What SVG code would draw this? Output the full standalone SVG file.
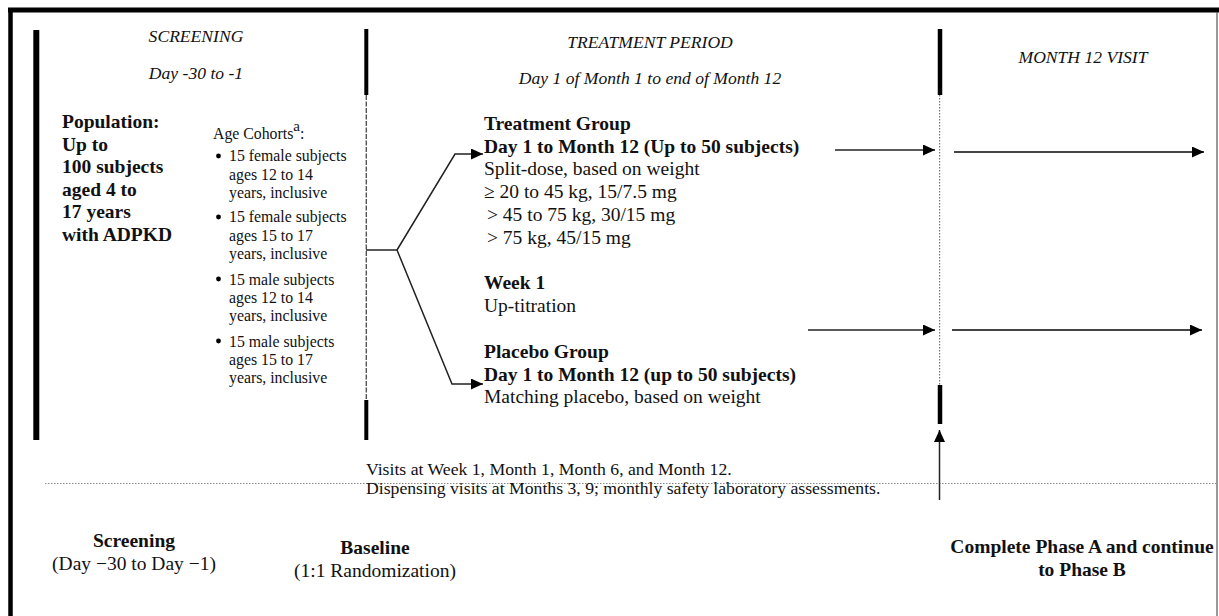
<svg xmlns="http://www.w3.org/2000/svg" width="1219" height="616" viewBox="0 0 1219 616">
<style>
text{font-family:"Liberation Serif","Times New Roman",serif;fill:#111}
.hd{font-style:italic;font-size:17.6px}
.b{font-weight:bold;font-size:19.5px}
.r{font-size:19.5px}
.s{font-size:15.8px}
.v{font-size:17.7px}
.c{text-anchor:middle}
.ln{stroke:#222;stroke-width:1.5;fill:none}
.ln2{stroke:#444;stroke-width:2;fill:none}
.bar{stroke:#000;fill:none}
</style>
<defs>
<marker id="ah" markerUnits="userSpaceOnUse" markerWidth="13" markerHeight="12" refX="12" refY="5.5" orient="auto">
<path d="M0,0 L12,5.5 L0,11 z" fill="#000"/>
</marker>
</defs>
<rect width="1219" height="616" fill="#fff"/>
<g id="frame">
<line x1="8" y1="10" x2="1219" y2="10" stroke="#000" stroke-width="5"/>
<line x1="10.5" y1="8" x2="10.5" y2="616" stroke="#000" stroke-width="4.5"/>
<line x1="1217" y1="12" x2="1217" y2="616" stroke="#555" stroke-width="1.2"/>
<line x1="36.3" y1="30" x2="36.3" y2="440" class="bar" stroke-width="6"/>
<line x1="366.3" y1="29" x2="366.3" y2="95" class="bar" stroke-width="4"/>
<line x1="366.3" y1="95" x2="366.3" y2="400" stroke="#555" stroke-width="1.4" stroke-dasharray="5,1.5"/>
<line x1="366.3" y1="400" x2="366.3" y2="440" class="bar" stroke-width="4"/>
<line x1="940" y1="29" x2="940" y2="95" class="bar" stroke-width="4.5"/>
<line x1="939.6" y1="95" x2="939.6" y2="385" stroke="#777" stroke-width="1.2" stroke-dasharray="1.5,1.5"/>
<line x1="940" y1="385" x2="940" y2="424" class="bar" stroke-width="4.5"/>
<line x1="45" y1="483.5" x2="1217" y2="483.5" stroke="#888" stroke-width="1" stroke-dasharray="1.5,1.5"/>
</g>
<g id="header-screening">
<text class="hd c" x="196" y="42">SCREENING</text>
<text class="hd c" x="196" y="79">Day -30 to -1</text>
</g>
<g id="header-treatment">
<text class="hd c" x="650" y="48">TREATMENT PERIOD</text>
<text class="hd c" x="650" y="84">Day 1 of Month 1 to end of Month 12</text>
</g>
<g id="header-month12">
<text class="hd c" x="1083" y="63">MONTH 12 VISIT</text>
</g>
<g id="population">
<text class="b" x="62" y="128">Population:</text>
<text class="b" x="62" y="151">Up to</text>
<text class="b" x="62" y="173">100 subjects</text>
<text class="b" x="62" y="196">aged 4 to</text>
<text class="b" x="62" y="218">17 years</text>
<text class="b" x="62" y="241">with ADPKD</text>
</g>
<g id="age-cohorts">
<text class="s" x="213" y="139">Age Cohorts<tspan dy="-8" font-size="15">a</tspan><tspan dy="8">:</tspan></text>
<g fill="#000">
<circle cx="218.5" cy="156" r="2.4"/>
<circle cx="218.5" cy="217" r="2.4"/>
<circle cx="218.5" cy="279" r="2.4"/>
<circle cx="218.5" cy="341" r="2.4"/>
</g>
<text class="s" x="229" y="161">15 female subjects</text>
<text class="s" x="229" y="180">ages 12 to 14</text>
<text class="s" x="229" y="198">years, inclusive</text>
<text class="s" x="229" y="222">15 female subjects</text>
<text class="s" x="229" y="241">ages 15 to 17</text>
<text class="s" x="229" y="259">years, inclusive</text>
<text class="s" x="229" y="285">15 male subjects</text>
<text class="s" x="229" y="303">ages 12 to 14</text>
<text class="s" x="229" y="321">years, inclusive</text>
<text class="s" x="229" y="347">15 male subjects</text>
<text class="s" x="229" y="365">ages 15 to 17</text>
<text class="s" x="229" y="383">years, inclusive</text>
</g>
<g id="treatment-group">
<text class="b" x="484" y="130">Treatment Group</text>
<text class="b" x="484" y="153">Day 1 to Month 12 (Up to 50 subjects)</text>
<text class="r" x="484" y="175">Split-dose, based on weight</text>
<text class="r" x="484" y="198">≥ 20 to 45 kg, 15/7.5 mg</text>
<text class="r" x="487" y="221">&gt; 45 to 75 kg, 30/15 mg</text>
<text class="r" x="487" y="244">&gt; 75 kg, 45/15 mg</text>
</g>
<g id="week1">
<text class="b" x="484" y="289">Week 1</text>
<text class="r" x="484" y="312">Up-titration</text>
</g>
<g id="placebo-group">
<text class="b" x="484" y="358">Placebo Group</text>
<text class="b" x="484" y="381">Day 1 to Month 12 (up to 50 subjects)</text>
<text class="r" x="484" y="403">Matching placebo, based on weight</text>
</g>
<g id="visits-note">
<text class="v" x="366" y="475">Visits at Week 1, Month 1, Month 6, and Month 12.</text>
<text class="v" x="366" y="494">Dispensing visits at Months 3, 9; monthly safety laboratory assessments.</text>
</g>
<g id="label-screening">
<text class="b c" x="134" y="547">Screening</text>
<text class="r c" x="134" y="570">(Day −30 to Day −1)</text>
</g>
<g id="label-baseline">
<text class="b c" x="375" y="554">Baseline</text>
<text class="r c" x="375" y="577">(1:1 Randomization)</text>
</g>
<g id="label-complete">
<text class="b c" x="1082" y="553">Complete Phase A and continue</text>
<text class="b c" x="1082" y="576">to Phase B</text>
</g>
<g id="connectors">
<path class="ln" d="M366,250 H397"/>
<path class="ln" d="M397,250 L455,154 H483" marker-end="url(#ah)"/>
<path class="ln" d="M397,250 L452,384 H483" marker-end="url(#ah)"/>
<path class="ln" d="M835,150 H935" marker-end="url(#ah)"/>
<path class="ln2" d="M954,152 H1204" marker-end="url(#ah)"/>
<path class="ln" d="M808,330 H935" marker-end="url(#ah)"/>
<path class="ln2" d="M952,330 H1202" marker-end="url(#ah)"/>
<path class="ln" d="M939.5,500 V430" marker-end="url(#ah)"/>
</g>
</svg>
